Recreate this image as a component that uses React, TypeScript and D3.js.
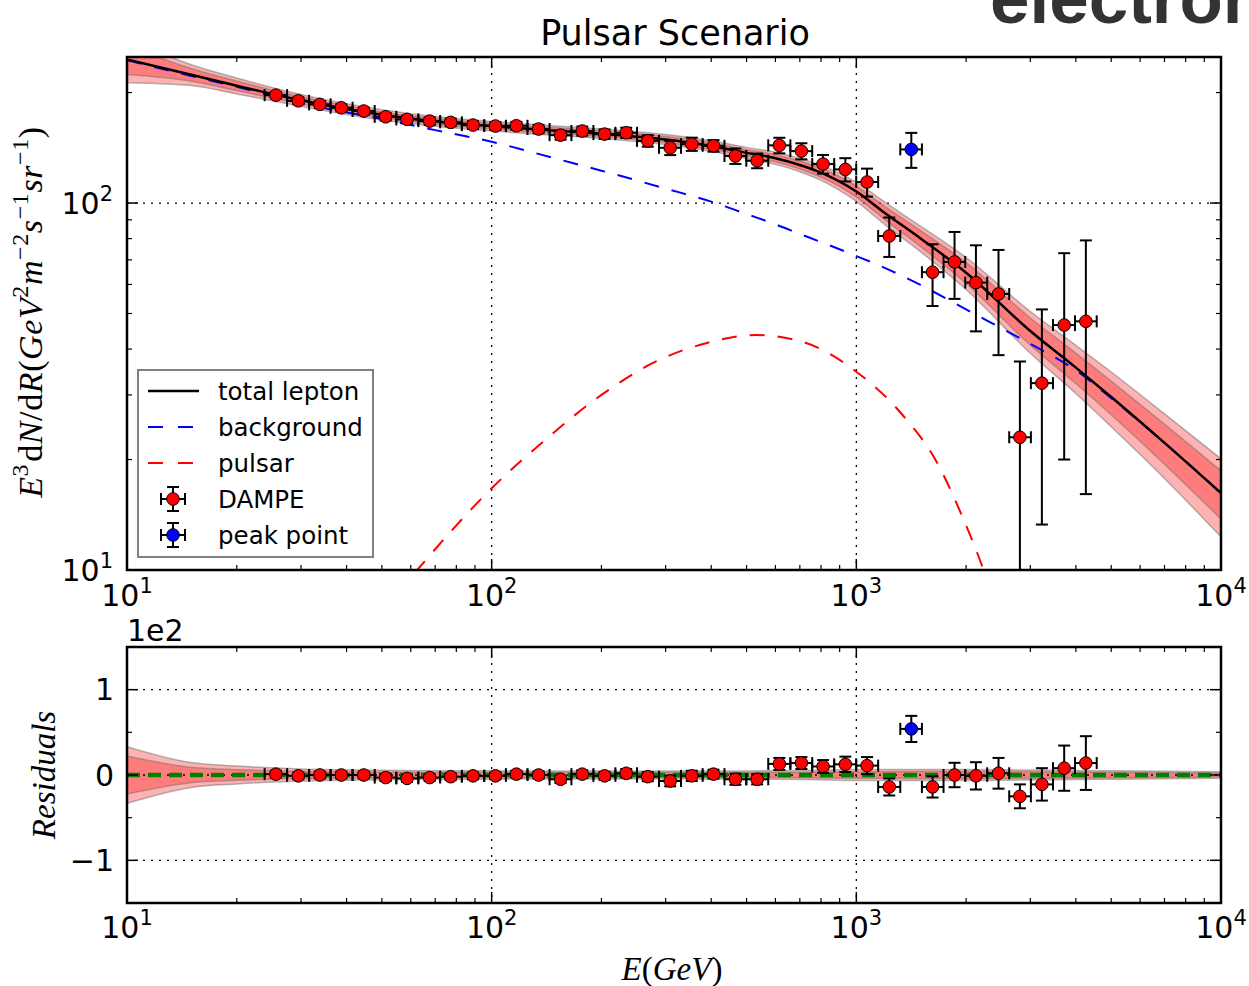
import React from "react";
import * as d3 from "d3";

const W = 1249;
const H = 986;
const topBox = { l: 127, r: 1221, t: 57, b: 570 };
const resBox = { l: 127, r: 1221, t: 647, b: 903 };

// DAMPE points: energy (GeV), E^3 flux, symmetric error, residual (data - model)
const dampeE = [25.6, 29.5, 33.8, 38.7, 44.6, 51.2, 58.6, 67.6, 77.2, 88.9, 102.4, 116.9, 134.5, 154.5, 177.2, 204, 233.9, 268, 308.7, 353.8, 405.8, 466, 534.6, 615, 706.8, 810.4, 933, 1070, 1231, 1618, 1859, 2128, 2454, 2809, 3227, 3715, 4260];
const dampeF = [196.8, 189.9, 185.7, 181.8, 178.1, 171.8, 169.0, 167.2, 165.9, 163.1, 162.1, 162.4, 159.1, 153.1, 157.1, 154.1, 155.4, 147.7, 141.4, 144.7, 143.2, 134.3, 130.4, 143.6, 138.5, 127.7, 123.5, 114.1, 81.3, 64.8, 69.1, 60.7, 56.5, 23.0, 32.3, 46.5, 47.6];
const dampeErr = [4, 4, 4, 4, 4, 4, 4, 4, 4, 4, 4, 4, 4.2, 4.3, 4.5, 4.6, 5, 5.3, 6.3, 6, 5.2, 6.5, 6, 7, 7, 7.5, 9, 10, 10, 12.4, 14.3, 16, 18, 14, 19, 26.5, 31.5];
const dampeRes = [1, -1, 0, 0, 0, -3, -4, -3, -2, -1, -1, 1, 0, -5, 1, -1, 2, -2, -7, -1, 1, -5, -5, 13, 14, 10, 12.5, 11, -14, -14, 0, -1, 2, -25, -11, 8, 14];

const peakE = [1415];
const peakF = [140];
const peakErr = [15.3];
const peakRes = [54];

// model curves sampled off the figure
const modelE = [10, 15, 20, 30, 50, 70, 100, 150, 200, 300, 400, 500, 600, 700, 800, 1000, 1200, 1500, 2000, 3000, 4000, 5000, 7000, 10000];
const totalF = [246, 223.7, 208.7, 190.5, 174, 167, 162, 157.5, 154.5, 149, 143, 137, 132.5, 127, 121, 107.5, 93.8, 80.1, 64.6, 44.8, 35.6, 29.6, 22.2, 16.2];
const bgF = [245, 222, 207.3, 187.1, 169.3, 158, 146.9, 132.1, 122.5, 109.5, 100.9, 93.3, 87.5, 82.4, 78.3, 71.7, 66.5, 59.8, 51.3, 41.3, 35.0, 29.4, 22.2, 16.2];
const sig1 = [0.09, 0.04, 0.03, 0.022, 0.018, 0.018, 0.018, 0.018, 0.018, 0.019, 0.02, 0.02, 0.022, 0.025, 0.028, 0.035, 0.042, 0.05, 0.065, 0.085, 0.095, 0.105, 0.125, 0.15];
const sig2 = [0.135, 0.065, 0.05, 0.037, 0.032, 0.03, 0.03, 0.03, 0.03, 0.031, 0.033, 0.035, 0.038, 0.042, 0.047, 0.06, 0.07, 0.08, 0.1, 0.13, 0.15, 0.17, 0.2, 0.24];

const pulsarE = [55, 62.5, 100, 140, 200, 276, 387, 530, 709, 1000, 1328, 1651, 1955, 2233, 2450];
const pulsarF = [8.6, 10, 16.7, 22.6, 30.0, 36.6, 41.5, 43.7, 41.9, 34.7, 26.7, 19.9, 13.95, 10, 7.6];

const majorE = [10, 100, 1000, 10000];
const majorExp = ["1", "2", "3", "4"];
const minorE = [10, 100, 1000].flatMap((d) => [2, 3, 4, 5, 6, 7, 8, 9].map((k) => k * d));
const topMinorY = [20, 30, 40, 50, 60, 70, 80, 90, 200];
const resMajorY = [-100, 0, 100];
const resLabels = ["\u22121", "0", "1"];
const resMinorY = [-50, 50];

const legendItems = ["total lepton", "background", "pulsar", "DAMPE", "peak point"];

const x = d3.scaleLog().domain([10, 1e4]).range([topBox.l, topBox.r]);
const y = d3.scaleLog().domain([10, 250]).range([topBox.b, topBox.t]);
const yr = d3.scaleLinear().domain([-150, 150]).range([resBox.b, resBox.t]);

const allE = [...dampeE, ...peakE].sort((a, b) => a - b);
function binEdges(e: number) {
  const i = allE.indexOf(e);
  const prev = i > 0 ? allE[i - 1] : e * e / allE[i + 1];
  const next = i < allE.length - 1 ? allE[i + 1] : e * e / allE[i - 1];
  return [Math.sqrt(prev * e), Math.sqrt(e * next)];
}

const sans = "DejaVu Sans";
const serif = "Liberation Serif";
const grid = { stroke: "#000", strokeWidth: 1.3, strokeDasharray: "2,6" };

function ErrPoint({ cx, cy, x0, x1, y0, y1, fill, clip }: any) {
  const c = 6;
  return (
    <g>
      <g clipPath={clip} stroke="#000" strokeWidth={2}>
        <line x1={x0} x2={x1} y1={cy} y2={cy} />
        <line x1={x0} x2={x0} y1={cy - c} y2={cy + c} />
        <line x1={x1} x2={x1} y1={cy - c} y2={cy + c} />
        <line x1={cx} x2={cx} y1={y0} y2={y1} />
        <line x1={cx - c} x2={cx + c} y1={y0} y2={y0} />
        <line x1={cx - c} x2={cx + c} y1={y1} y2={y1} />
      </g>
      <circle cx={cx} cy={cy} r={6.3} fill={fill} stroke="#000" strokeWidth={1} />
    </g>
  );
}

function Pow({ px, py, e, anchor }: any) {
  return (
    <text x={px} y={py} textAnchor={anchor} fontFamily={sans} fontSize={30}>
      10<tspan dy={-13} fontSize={21}>{e}</tspan>
    </text>
  );
}

function Frame({ box, yTicks, yMinor }: any) {
  const major = 11;
  const minor = 5;
  return (
    <g stroke="#000">
      {majorE.map((e) => (
        <g key={"M" + e} strokeWidth={1.5}>
          <line x1={x(e)} x2={x(e)} y1={box.b} y2={box.b - major} />
          <line x1={x(e)} x2={x(e)} y1={box.t} y2={box.t + major} />
        </g>
      ))}
      {minorE.map((e) => (
        <g key={"m" + e} strokeWidth={1.2}>
          <line x1={x(e)} x2={x(e)} y1={box.b} y2={box.b - minor} />
          <line x1={x(e)} x2={x(e)} y1={box.t} y2={box.t + minor} />
        </g>
      ))}
      {yTicks.map((v: number) => (
        <g key={"y" + v} strokeWidth={1.5}>
          <line x1={box.l} x2={box.l + major} y1={v} y2={v} />
          <line x1={box.r} x2={box.r - major} y1={v} y2={v} />
        </g>
      ))}
      {yMinor.map((v: number) => (
        <g key={"ym" + v} strokeWidth={1.2}>
          <line x1={box.l} x2={box.l + minor} y1={v} y2={v} />
          <line x1={box.r} x2={box.r - minor} y1={v} y2={v} />
        </g>
      ))}
      <rect x={box.l} y={box.t} width={box.r - box.l} height={box.b - box.t} fill="none" strokeWidth={2.5} />
    </g>
  );
}

export default function App() {
  const model = modelE.map((e, i) => ({ e, t: totalF[i], b: bgF[i], s1: sig1[i], s2: sig2[i] }));
  const pulsar = pulsarE.map((e, i) => ({ e, f: pulsarF[i] }));

  const curve = d3.curveMonotoneX;
  const totalLine = d3.line<any>().x((d) => x(d.e)).y((d) => y(d.t)).curve(curve);
  const bgLine = d3.line<any>().x((d) => x(d.e)).y((d) => y(d.b)).curve(curve);
  const pulsarLine = d3.line<any>().x((d) => x(d.e)).y((d) => y(d.f)).curve(curve);
  const band = (k: "s1" | "s2") =>
    d3.area<any>().x((d) => x(d.e)).y0((d) => y(d.t * (1 - d[k]))).y1((d) => y(d.t * (1 + d[k]))).curve(curve);
  const resBand = (k: "s1" | "s2") =>
    d3.area<any>().x((d) => x(d.e)).y0((d) => yr(-d.t * d[k])).y1((d) => yr(d.t * d[k])).curve(curve);

  const bandStyle = { fill: "#ff0000", fillOpacity: 0.3, stroke: "#707070", strokeOpacity: 0.5, strokeWidth: 1.5 };

  const legX = 138;
  const legY = 370;
  const rowY = [391, 427, 463, 499, 535];
  const sup = { dy: -14, fontSize: 24 };

  return (
    <svg width={W} height={H} style={{ position: "absolute", left: 0, top: 0, background: "#fff" }}>
      <defs>
        <clipPath id="clipTop">
          <rect x={topBox.l} y={topBox.t} width={topBox.r - topBox.l} height={topBox.b - topBox.t} />
        </clipPath>
        <clipPath id="clipRes">
          <rect x={resBox.l} y={resBox.t} width={resBox.r - resBox.l} height={resBox.b - resBox.t} />
        </clipPath>
      </defs>

      <text x={990} y={23} fontFamily="Liberation Sans" fontWeight="bold" fontSize={71} fill="#333">electron</text>
      <text x={675} y={45} textAnchor="middle" fontFamily={sans} fontSize={35}>Pulsar Scenario</text>

      {/* ---------- top panel ---------- */}
      <g {...grid}>
        {[100, 1000].map((e) => (
          <line key={e} x1={x(e)} x2={x(e)} y1={topBox.t} y2={topBox.b} />
        ))}
        <line x1={topBox.l} x2={topBox.r} y1={y(100)} y2={y(100)} />
      </g>
      <g clipPath="url(#clipTop)">
        <path d={band("s2")(model) || ""} {...bandStyle} />
        <path d={band("s1")(model) || ""} {...bandStyle} />
        <path d={bgLine(model) || ""} fill="none" stroke="#0000ff" strokeWidth={2} strokeDasharray="15,13" />
        <path d={pulsarLine(pulsar) || ""} fill="none" stroke="#ff0000" strokeWidth={2} strokeDasharray="15,13" />
        <path d={totalLine(model) || ""} fill="none" stroke="#000" strokeWidth={2.5} />
      </g>
      {dampeE.map((e, i) => {
        const [lo, hi] = binEdges(e);
        return (
          <ErrPoint key={"d" + i} cx={x(e)} cy={y(dampeF[i])} x0={x(lo)} x1={x(hi)}
            y0={y(Math.max(dampeF[i] - dampeErr[i], 1))} y1={y(dampeF[i] + dampeErr[i])} fill="#ff0000" clip="url(#clipTop)" />
        );
      })}
      {peakE.map((e, i) => {
        const [lo, hi] = binEdges(e);
        return (
          <ErrPoint key={"p" + i} cx={x(e)} cy={y(peakF[i])} x0={x(lo)} x1={x(hi)}
            y0={y(peakF[i] - peakErr[i])} y1={y(peakF[i] + peakErr[i])} fill="#0000ff" clip="url(#clipTop)" />
        );
      })}
      <Frame box={topBox} yTicks={[y(10), y(100)]} yMinor={topMinorY.map((v) => y(v))} />
      {majorE.map((e, i) => (
        <Pow key={"xt" + e} px={x(e)} py={606} e={majorExp[i]} anchor="middle" />
      ))}
      <Pow px={113} py={y(10) + 11} e="1" anchor="end" />
      <Pow px={113} py={y(100) + 11} e="2" anchor="end" />

      <text transform="translate(42,312) rotate(-90)" textAnchor="middle" fontFamily={serif} fontSize={34} letterSpacing={0.6}>
        <tspan fontStyle="italic">E</tspan>
        <tspan dy={sup.dy} fontSize={sup.fontSize}>3</tspan>
        <tspan dy={-sup.dy} dx={2}>d</tspan>
        <tspan fontStyle="italic">N</tspan>
        <tspan>/d</tspan>
        <tspan fontStyle="italic">R</tspan>
        <tspan>(</tspan>
        <tspan fontStyle="italic">GeV</tspan>
        <tspan dy={sup.dy} fontSize={sup.fontSize}>2</tspan>
        <tspan dy={-sup.dy} fontStyle="italic">m</tspan>
        <tspan dy={sup.dy} fontSize={sup.fontSize}>{"\u22122"}</tspan>
        <tspan dy={-sup.dy} fontStyle="italic">s</tspan>
        <tspan dy={sup.dy} fontSize={sup.fontSize}>{"\u22121"}</tspan>
        <tspan dy={-sup.dy} fontStyle="italic">sr</tspan>
        <tspan dy={sup.dy} fontSize={sup.fontSize}>{"\u22121"}</tspan>
        <tspan dy={-sup.dy}>)</tspan>
      </text>

      {/* legend */}
      <rect x={legX} y={legY} width={235} height={187} fill="#fff" stroke="#808080" strokeWidth={2} />
      <line x1={148} x2={199} y1={rowY[0]} y2={rowY[0]} stroke="#000" strokeWidth={2.5} />
      <line x1={148} x2={199} y1={rowY[1]} y2={rowY[1]} stroke="#0000ff" strokeWidth={2} strokeDasharray="15,15" />
      <line x1={148} x2={199} y1={rowY[2]} y2={rowY[2]} stroke="#ff0000" strokeWidth={2} strokeDasharray="15,15" />
      <ErrPoint cx={173} cy={rowY[3]} x0={161} x1={185} y0={rowY[3] + 12} y1={rowY[3] - 12} fill="#ff0000" />
      <ErrPoint cx={173} cy={rowY[4]} x0={161} x1={185} y0={rowY[4] + 12} y1={rowY[4] - 12} fill="#0000ff" />
      {legendItems.map((t, i) => (
        <text key={t} x={218} y={rowY[i]} dy="0.35em" fontFamily={sans} fontSize={24.5}>{t}</text>
      ))}

      {/* ---------- residual panel ---------- */}
      <g clipPath="url(#clipRes)">
        <path d={resBand("s2")(model) || ""} {...bandStyle} />
        <path d={resBand("s1")(model) || ""} {...bandStyle} />
      </g>
      <g {...grid}>
        {[100, 1000].map((e) => (
          <line key={e} x1={x(e)} x2={x(e)} y1={resBox.t} y2={resBox.b} />
        ))}
        {resMajorY.map((v) => (
          <line key={v} x1={resBox.l} x2={resBox.r} y1={yr(v)} y2={yr(v)} />
        ))}
      </g>
      <line x1={resBox.l} x2={resBox.r} y1={yr(0)} y2={yr(0)} stroke="#008000" strokeWidth={4.5} strokeDasharray="13,8" />
      {dampeE.map((e, i) => {
        const [lo, hi] = binEdges(e);
        return (
          <ErrPoint key={"rd" + i} cx={x(e)} cy={yr(dampeRes[i])} x0={x(lo)} x1={x(hi)}
            y0={yr(dampeRes[i] - dampeErr[i])} y1={yr(dampeRes[i] + dampeErr[i])} fill="#ff0000" clip="url(#clipRes)" />
        );
      })}
      {peakE.map((e, i) => {
        const [lo, hi] = binEdges(e);
        return (
          <ErrPoint key={"rp" + i} cx={x(e)} cy={yr(peakRes[i])} x0={x(lo)} x1={x(hi)}
            y0={yr(peakRes[i] - peakErr[i])} y1={yr(peakRes[i] + peakErr[i])} fill="#0000ff" clip="url(#clipRes)" />
        );
      })}
      <Frame box={resBox} yTicks={resMajorY.map((v) => yr(v))} yMinor={resMinorY.map((v) => yr(v))} />
      {majorE.map((e, i) => (
        <Pow key={"rxt" + e} px={x(e)} py={938} e={majorExp[i]} anchor="middle" />
      ))}
      {resMajorY.map((v, i) => (
        <text key={"ry" + v} x={114} y={yr(v) + 10.5} textAnchor="end" fontFamily={sans} fontSize={30}>{resLabels[i]}</text>
      ))}
      <text x={127} y={641} fontFamily={sans} fontSize={30}>1e2</text>
      <text transform="translate(55,775) rotate(-90)" textAnchor="middle" fontFamily={serif} fontSize={33} fontStyle="italic">Residuals</text>
      <text x={672} y={980} textAnchor="middle" fontFamily={serif} fontSize={33}>
        <tspan fontStyle="italic">E</tspan>(<tspan fontStyle="italic">GeV</tspan>)
      </text>
    </svg>
  );
}
